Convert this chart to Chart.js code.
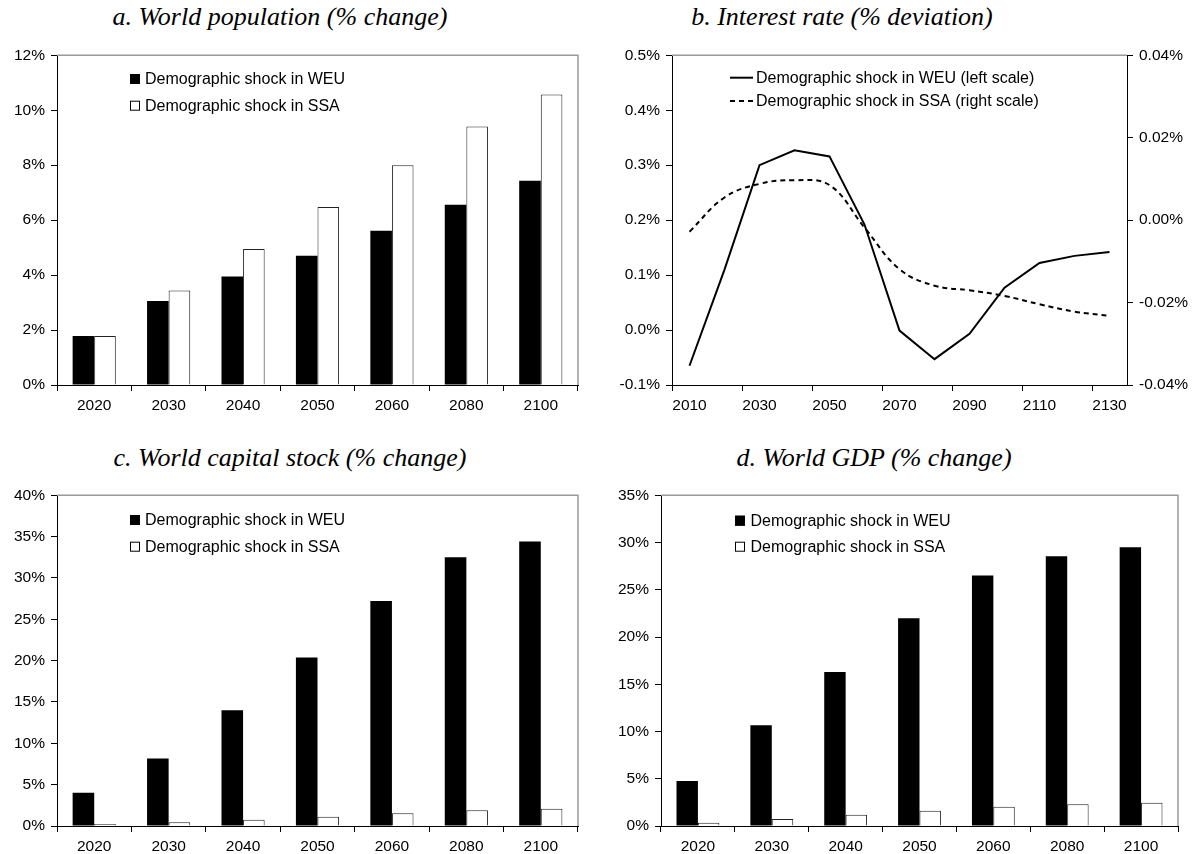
<!DOCTYPE html>
<html>
<head>
<meta charset="utf-8">
<script src="https://cdn.jsdelivr.net/npm/chart.js@4.4.1/dist/chart.umd.min.js"></script>
<style>
  body { margin: 0; background: #fff; width: 1192px; height: 854px; position: relative; overflow: hidden; }
  .panel { position: absolute; }
  .ttl { position: absolute; width: 600px; text-align: center; font: italic 26px 'Liberation Serif', serif; color: #000; line-height: 30px; white-space: nowrap; }
</style>
</head>
<body>
<div class="ttl" style="left:-20px; top:2px;">a. World population (% change)</div>
<div class="ttl" style="left:542px; top:2px;">b. Interest rate (% deviation)</div>
<div class="ttl" style="left:-10px; top:443px;">c. World capital stock (% change)</div>
<div class="ttl" style="left:574px; top:443px;">d. World GDP (% change)</div>

<div class="panel" style="left:0px; top:40px;"><canvas id="pop" width="595" height="380"></canvas></div>
<div class="panel" style="left:600px; top:40px;"><canvas id="rate" width="592" height="380"></canvas></div>
<div class="panel" style="left:0px; top:480px;"><canvas id="cap" width="595" height="374"></canvas></div>
<div class="panel" style="left:600px; top:480px;"><canvas id="gdp" width="592" height="374"></canvas></div>

<script>
// values (in %)
const years = ['2020', '2030', '2040', '2050', '2060', '2080', '2100'];
const popWEU = [1.78, 3.06, 3.95, 4.70, 5.61, 6.56, 7.43];
const popSSA = [1.78, 3.44, 4.95, 6.48, 8.00, 9.41, 10.57];

const rateYears = ['2010', '2020', '2030', '2040', '2050', '2060', '2070', '2080', '2090', '2100', '2110', '2120', '2130'];
const rateWEU = [-0.065, 0.11, 0.300, 0.327, 0.316, 0.192, -0.001, -0.053, -0.007, 0.077, 0.122, 0.135, 0.142];
const rateSSA = [-0.0028, 0.0055, 0.0088, 0.0097, 0.0085, -0.0018, -0.0119, -0.0159, -0.0170, -0.0184, -0.0204, -0.0222, -0.0232];

const capWEU = [4.02, 8.16, 13.99, 20.38, 27.2, 32.5, 34.4];
const capSSA = [0.24, 0.44, 0.76, 1.13, 1.53, 1.89, 2.09];

const gdpWEU = [4.75, 10.66, 16.29, 21.98, 26.52, 28.56, 29.51];
const gdpSSA = [0.35, 0.74, 1.20, 1.62, 2.04, 2.29, 2.46];

const labelWEU = 'Demographic shock in WEU';
const labelSSA = 'Demographic shock in SSA';

Chart.defaults.font.family = "'Liberation Sans', Arial, sans-serif";
Chart.defaults.font.size = 15.5;
Chart.defaults.color = '#000';
Chart.defaults.animation = false;

// legend drawn inside the plot, like the excel original
const boxLegend = {
    id: 'boxLegend',
    afterDraw(chart, args, opts) {
        const ctx = chart.ctx;
        ctx.save();
        ctx.font = "16px 'Liberation Sans', Arial, sans-serif";
        ctx.textBaseline = 'middle';
        ctx.fillStyle = '#000';
        chart.data.datasets.forEach((ds, i) => {
            const y = opts.y + i * opts.rowGap;
            if (opts.kind === 'line') {
                ctx.beginPath();
                ctx.strokeStyle = '#000';
                ctx.lineWidth = 2;
                ctx.setLineDash(ds.borderDash || []);
                ctx.moveTo(opts.x, y);
                ctx.lineTo(opts.x + 23, y);
                ctx.stroke();
                ctx.setLineDash([]);
            } else {
                ctx.fillStyle = ds.backgroundColor;
                ctx.fillRect(opts.x, y - 5, 10, 10);
                ctx.strokeStyle = '#000';
                ctx.lineWidth = 1;
                ctx.strokeRect(opts.x + 0.5, y - 4.5, 9, 9);
            }
            ctx.fillStyle = '#000';
            ctx.fillText(ds.label, opts.textX, y + 1);
        });
        ctx.restore();
    }
};

// grey border on top (and right) of the plot area
const frame = {
    id: 'frame',
    afterDraw(chart, args, opts) {
        const a = chart.chartArea;
        const ctx = chart.ctx;
        ctx.save();
        ctx.strokeStyle = '#9a9a9a';
        ctx.lineWidth = 1.5;
        ctx.beginPath();
        ctx.moveTo(a.left, a.top);
        ctx.lineTo(a.right, a.top);
        if (opts.right) ctx.lineTo(a.right, a.bottom);
        ctx.stroke();
        ctx.restore();
    }
};

function fmt(v, decimals) {
    if (Math.abs(v) < 1e-9) v = 0;
    return v.toFixed(decimals) + '%';
}

function yScale(min, max, step, width, decimals) {
    return {
        min: min, max: max,
        ticks: {
            stepSize: step, padding: 6,
            callback: v => fmt(v, decimals)
        },
        grid: { drawOnChartArea: false, tickLength: 6, color: '#000' },
        border: { color: '#000', width: 1 },
        afterFit: s => { s.width = width; }
    };
}

function xScale(height) {
    return {
        offset: true,
        ticks: { padding: 5, maxRotation: 0, autoSkip: false },
        grid: { drawOnChartArea: false, tickLength: 6, color: '#000', offset: true },
        border: { color: '#000', width: 1 },
        afterFit: s => { s.height = height; }
    };
}

function barChart(id, weu, ssa, yMax, step, yWidth, padding, legend, xHeight) {
    return new Chart(document.getElementById(id), {
        type: 'bar',
        data: {
            labels: years,
            datasets: [{
                label: labelWEU,
                data: weu,
                backgroundColor: '#000',
                borderColor: '#000',
                borderWidth: 0
            }, {
                label: labelSSA,
                data: ssa,
                backgroundColor: '#fff',
                borderColor: '#222',
                borderWidth: 1
            }]
        },
        options: {
            responsive: false,
            categoryPercentage: 0.58,
            barPercentage: 1,
            layout: { padding: padding },
            plugins: {
                legend: { display: false },
                tooltip: { enabled: false },
                boxLegend: legend,
                frame: { right: true }
            },
            scales: {
                x: xScale(xHeight),
                y: yScale(0, yMax, step, yWidth, 0)
            }
        },
        plugins: [boxLegend, frame]
    });
}

barChart('pop', popWEU, popSSA, 12, 2, 57, { left: 0, right: 17, top: 14, bottom: 5 },
    { x: 130, y: 39, rowGap: 26.7, textX: 145, kind: 'box' }, 30);
barChart('cap', capWEU, capSSA, 40, 5, 57, { left: 0, right: 17, top: 14, bottom: 2 },
    { x: 130, y: 40, rowGap: 26.7, textX: 145, kind: 'box' }, 26);
barChart('gdp', gdpWEU, gdpSSA, 35, 5, 61, { left: 0, right: 14, top: 14, bottom: 2 },
    { x: 135, y: 40.7, rowGap: 26, textX: 150.5, kind: 'box' }, 26);

// panel b: two lines on separate scales
const rateX = xScale(30);
rateX.ticks.callback = (v, i) => i % 2 === 0 ? rateYears[i] : '';
rateX.grid.color = c => c.index % 2 === 0 ? '#000' : 'rgba(0,0,0,0)';

new Chart(document.getElementById('rate'), {
    type: 'line',
    data: {
        labels: rateYears,
        datasets: [{
            label: labelWEU + ' (left scale)',
            data: rateWEU,
            yAxisID: 'y',
            borderColor: '#000',
            borderWidth: 2,
            pointRadius: 0,
            tension: 0
        }, {
            label: labelSSA + ' (right scale)',
            data: rateSSA,
            yAxisID: 'y2',
            borderColor: '#000',
            borderWidth: 2,
            borderDash: [5, 4],
            pointRadius: 0,
            tension: 0.4
        }]
    },
    options: {
        responsive: false,
        layout: { padding: { left: 0, right: 0, top: 14, bottom: 5 } },
        plugins: {
            legend: { display: false },
            tooltip: { enabled: false },
            boxLegend: { x: 130, y: 37.7, rowGap: 23.3, textX: 156, kind: 'line' },
            frame: { right: false }
        },
        scales: {
            x: rateX,
            y: yScale(-0.1, 0.5, 0.1, 72, 1),
            y2: Object.assign(yScale(-0.04, 0.04, 0.02, 65, 2), { position: 'right' })
        }
    },
    plugins: [boxLegend, frame]
});
</script>
</body>
</html>
